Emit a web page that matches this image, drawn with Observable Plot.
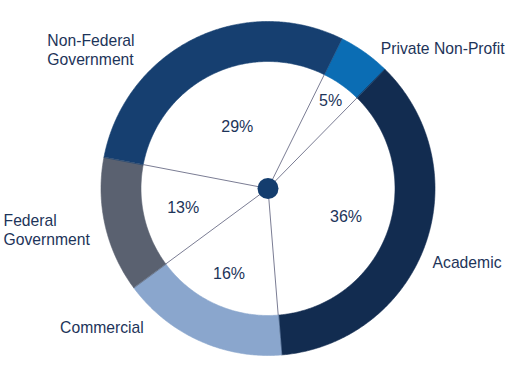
<!DOCTYPE html>
<html>
<head>
<meta charset="utf-8">
<script src="https://cdn.jsdelivr.net/npm/d3@7"></script>
<script src="https://cdn.jsdelivr.net/npm/@observablehq/plot@0.6"></script>
<style>
  html, body { margin: 0; padding: 0; background: #ffffff; }
  #chart svg { display: block; }
</style>
</head>
<body>
<div id="chart"></div>
<script>
// ---- data ----
const categories = ["Private Non-Profit", "Academic", "Commercial", "Federal Government", "Non-Federal Government"];
const shares = [5, 36, 16, 13, 29];
const pctLabels = ["5%", "36%", "16%", "13%", "29%"];
const displayNames = ["Private Non-Profit", "Academic", "Commercial", "Federal\nGovernment", "Non-Federal\nGovernment"];

// ---- layout / style ----
const W = 510, H = 371;
const CX = 267.5, CY = 188;          // centre in pixels
const R_OUT = 167, R_IN = 127;
const START_DEG = 26.3;
const colors = ["#0b6db4", "#122c50", "#8aa6cd", "#5a6170", "#163f70"];
const textColor = "#1d3459";
const pctRadius = [108, 83, 94, 87, 69];
const nameOffsets = [[16, -4, "start"], [7.6, 17, "start"], [-55, -13, "end"], [-101.6, 4.3, "start"], [-146.3, 10.6, "start"]];

const rad = d => d * Math.PI / 180;
const polar = (a, r) => ({x: r * Math.sin(a), y: r * Math.cos(a)});

const arcs = d3.pie().sort(null).value(d => d.share)
  .startAngle(rad(START_DEG)).endAngle(rad(START_DEG + 360))(
    categories.map((c, i) => ({cat: c, share: shares[i], pct: pctLabels[i], name: displayNames[i], i}))
  );

// ring polygons
const ringPts = [];
for (const a of arcs) {
  const n = Math.max(8, Math.ceil((a.endAngle - a.startAngle) / rad(0.5)));
  for (let k = 0; k <= n; k++) {
    const t = a.startAngle + (a.endAngle - a.startAngle) * k / n;
    ringPts.push({cat: a.data.cat, ...polar(t, R_OUT)});
  }
  for (let k = n; k >= 0; k--) {
    const t = a.startAngle + (a.endAngle - a.startAngle) * k / n;
    ringPts.push({cat: a.data.cat, ...polar(t, R_IN)});
  }
}

// spokes at slice boundaries
const spokes = arcs.map(a => ({x1: 0, y1: 0, ...(() => { const p = polar(a.startAngle, R_IN); return {x2: p.x, y2: p.y}; })()}));

// percentage labels
const pcts = arcs.map(a => {
  const m = (a.startAngle + a.endAngle) / 2;
  return {...polar(m, pctRadius[a.data.i]), text: a.data.pct};
});

// category name labels
const nameMarks = arcs.map(a => {
  const m = (a.startAngle + a.endAngle) / 2;
  const p = polar(m, R_OUT);
  const [dx, dy, anchor] = nameOffsets[a.data.i];
  return Plot.text([{...p, text: a.data.name}], {
    x: "x", y: "y", text: "text", dx, dy, textAnchor: anchor,
    lineHeight: 1.18, fontSize: 15.7, fill: textColor
  });
});

const chart = Plot.plot({
  width: W, height: H,
  margin: 0,
  style: {fontFamily: "'Liberation Sans', Arial, Helvetica, sans-serif", background: "#ffffff"},
  x: {domain: [-CX, W - CX], range: [0, W], axis: null},
  y: {domain: [-(H - CY), CY], range: [H, 0], axis: null},
  color: {type: "ordinal", domain: categories, range: colors},
  marks: [
    Plot.line(ringPts, {x: "x", y: "y", z: "cat", fill: "cat", stroke: "cat", strokeWidth: 0.6, curve: "linear-closed"}),
    Plot.link(spokes, {x1: "x1", y1: "y1", x2: "x2", y2: "y2", stroke: "#7b7d94", strokeWidth: 1}),
    Plot.dot([{x: 0, y: 0}], {x: "x", y: "y", r: 10.5, fill: "#143d6e", stroke: "none"}),
    Plot.text(pcts, {x: "x", y: "y", text: "text", fontSize: 16, fill: textColor}),
    ...nameMarks
  ]
});
document.getElementById("chart").appendChild(chart);
</script>
</body>
</html>
